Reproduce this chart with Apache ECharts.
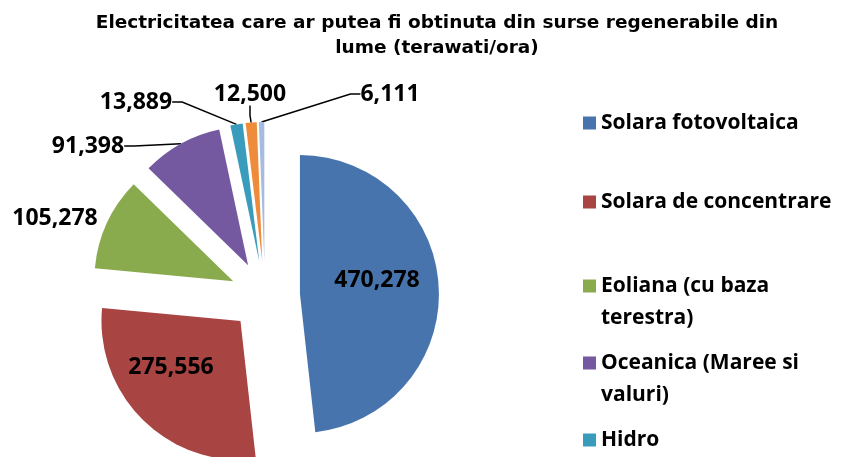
<!DOCTYPE html>
<html>
<head>
<meta charset="utf-8">
<script src="https://cdn.jsdelivr.net/npm/echarts@6/dist/echarts.min.js"></script>
<style>
    html, body { margin: 0; padding: 0; background: #fff; }
    #chart { width: 845px; height: 457px; }
</style>
</head>
<body>
<div id="chart"></div>
<script>
// surse si valori (terawati/ora)
var names = ['Solara fotovoltaica', 'Solara de concentrare', 'Eoliana (cu baza terestra)',
    'Oceanica (Maree si valuri)', 'Hidro', 'Geotermala', 'Biomasa'];
var values = [470278, 275556, 105278, 91398, 13889, 12500, 6111];
var colors = ['#4774ac', '#a84442', '#8aab4d', '#7458a0', '#3a9cbc', '#ef8c3b', '#a5bbe0'];

// legenda afiseaza doar primele cinci (restul e taiat in original)
var legendNames = names.slice(0, 5);
var legendLabels = ['Solara fotovoltaica', 'Solara de concentrare', '\nEoliana (cu baza\nterestra)',
    '\nOceanica (Maree si\nvaluri)', 'Hidro'];
var legendTops = [107, 186, 238, 315, 424];

// pozitiile etichetelor, ca in graficul original
var labelPos = [
    { x: 377, y: 280 },
    { x: 171, y: 367 },
    { x: 55, y: 218 },
    { x: 88, y: 146 },
    { x: 136, y: 102 },
    { x: 250, y: 94 },
    { x: 390, y: 94 }
];

var pieCenter = [265, 296];
var pieRadius = 139;
var explode = 35;

function formatNum(num) {
    var reg = /\d{1,3}(?=(\d{3})+$)/g;
    return (num + '').replace(reg, '$&,');
}

var font = '"Open Sans", Lato, sans-serif';

// fiecare felie intr-o serie proprie, mutata pe bisectoare (pie "explodat")
function getSeries() {
    var total = values.reduce(function (a, b) { return a + b; }, 0);
    var cum = 0;
    return values.map(function (v, k) {
        var mid = (cum + v / 2) / total * Math.PI * 2;
        cum += v;
        var data = values.map(function (w, i) {
            if (i !== k) {
                return {
                    name: names[i],
                    value: w,
                    itemStyle: { color: 'rgba(0,0,0,0)' },
                    label: { show: false },
                    labelLine: { show: false }
                };
            }
            var item = {
                name: names[i],
                value: w,
                itemStyle: { color: colors[i] }
            };
            if (i < 3) {
                item.labelLine = { show: false };
            }
            if (i < 2) {
                item.label = { position: 'inside' };
            }
            return item;
        });
        return {
            type: 'pie',
            center: [pieCenter[0] + explode * Math.sin(mid), pieCenter[1] - explode * Math.cos(mid)],
            radius: pieRadius,
            startAngle: 90,
            clockwise: true,
            avoidLabelOverlap: false,
            silent: true,
            label: {
                show: true,
                position: 'outside',
                fontFamily: font,
                fontWeight: 'bold',
                fontSize: 23,
                color: '#000',
                formatter: function (p) {
                    return formatNum(p.value);
                }
            },
            labelLine: {
                show: true,
                length: 10,
                length2: 10,
                lineStyle: { color: '#000', width: 1.5 }
            },
            labelLayout: function (params) {
                var p = labelPos[params.dataIndex];
                return {
                    x: p.x,
                    y: p.y,
                    align: 'center',
                    verticalAlign: 'middle'
                };
            },
            data: data
        };
    });
}

function getOption() {
    var legends = legendNames.map(function (n, i) {
        return {
            data: [{ name: n, itemStyle: { color: colors[i] } }],
            orient: 'vertical',
            left: 583,
            top: legendTops[i],
            padding: 0,
            icon: 'rect',
            itemWidth: 13,
            itemHeight: 13,
            itemGap: 0,
            selectedMode: false,
            formatter: function () { return legendLabels[i]; },
            textStyle: {
                fontFamily: font,
                fontWeight: 'bold',
                fontSize: 21,
                lineHeight: 32,
                color: '#000'
            }
        };
    });

    return {
        animation: false,
        backgroundColor: '#fff',
        title: {
            text: 'Electricitatea care ar putea fi obtinuta din surse regenerabile din\nlume (terawati/ora)',
            left: 432,
            top: 6,
            textAlign: 'center',
            textStyle: {
                fontFamily: '"DejaVu Sans", sans-serif',
                fontWeight: 'bold',
                fontSize: 18.5,
                lineHeight: 25,
                color: '#000'
            }
        },
        legend: legends,
        series: getSeries()
    };
}

var myChart = echarts.init(document.getElementById('chart'));
myChart.setOption(getOption());
</script>
</body>
</html>
